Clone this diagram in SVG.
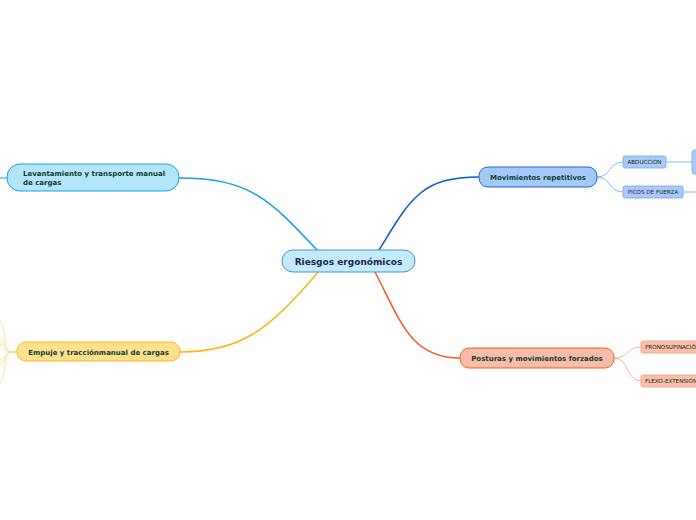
<svg xmlns="http://www.w3.org/2000/svg" width="696" height="520" viewBox="0 0 696 520">
<style>
text{font-family:"DejaVu Sans","Verdana",sans-serif;}
.main{font-size:7px;font-weight:bold;fill:#103d2e;}
.sub{font-size:5.6px;fill:#222;}
.c{fill:none;stroke-linecap:round;}
</style>
<rect width="696" height="520" fill="#ffffff"/>
<g id="connectors">
  <path class="c" d="M179,178 C250,178 270,200 317,250" stroke="#14a0e6" stroke-width="1.5"/>
  <path class="c" d="M0,178 L7,178" stroke="#14a0e6" stroke-width="1"/>
  <path class="c" d="M379,250 C410,200 420,177 479,177" stroke="#0a58cc" stroke-width="1.5"/>
  <path class="c" d="M375,272 C400,320 410,358 460,358" stroke="#f05a24" stroke-width="1.5"/>
  <path class="c" d="M318,272 C270,330 240,352 180,352" stroke="#ffb512" stroke-width="1.5"/>
  <path class="c" d="M597,177 C612,177 608,162 623,162" stroke="#8ab6f6" stroke-width="1"/>
  <path class="c" d="M597,177 C612,177 608,192 623,192" stroke="#8ab6f6" stroke-width="1"/>
  <path class="c" d="M666,162 L692,162" stroke="#8ab6f6" stroke-width="1"/>
  <path class="c" d="M683,192 L696,192" stroke="#8ab6f6" stroke-width="1"/>
  <path class="c" d="M614,358 C630,358 625,347 641,347" stroke="#fbb096" stroke-width="1"/>
  <path class="c" d="M614,358 C630,358 625,381 641,381" stroke="#fbb096" stroke-width="1"/>
  <path class="c" d="M17,352 L11,352" stroke="#fcc848" stroke-width="1.5"/>
  <g stroke="#fde3a8" stroke-width="1" fill="none">
    <path d="M11,352 C4,352 6,330 0,320"/>
    <path d="M11,352 C4,352 5,342 0,338"/>
    <path d="M11,352 C5,352 4,346 0,344"/>
    <path d="M11,352 C5,352 4,359 0,360"/>
    <path d="M11,352 C5,352 4,364 0,366"/>
    <path d="M11,352 C4,352 6,374 0,384"/>
  </g>
</g>
<g id="central">
  <rect x="282" y="250" width="133" height="22" rx="11" fill="#c5eafc" stroke="#3a98d8" stroke-width="1"/>
  <text x="348.5" y="264.5" text-anchor="middle" style="font-size:9px;font-weight:bold;fill:#172a4c">Riesgos ergonómicos</text>
</g>
<g id="levantamiento">
  <rect x="7" y="164" width="172" height="27" rx="13" fill="#b3e5fc" stroke="#1ea0e6" stroke-width="1"/>
  <text class="main" x="23" y="176">Levantamiento y transporte manual</text>
  <text class="main" x="23" y="185">de cargas</text>
</g>
<g id="movimientos">
  <rect x="479" y="167" width="118" height="20" rx="9" fill="#a3c9f8" stroke="#1a63d4" stroke-width="1"/>
  <text class="main" x="538" y="180" text-anchor="middle">Movimientos repetitivos</text>
</g>
<g id="abduccion">
  <rect x="623" y="156" width="43" height="12" rx="2" fill="#a8cbf8" stroke="#73a4f0" stroke-width="0.8"/>
  <text class="sub" x="644.5" y="164" text-anchor="middle">ABDUCCION</text>
</g>
<g id="abduccion-child">
  <rect x="692" y="150" width="10" height="24" rx="3" fill="#a8cbf8" stroke="#73a4f0" stroke-width="0.8"/>
</g>
<g id="picos">
  <rect x="623" y="186" width="60" height="12" rx="2" fill="#a8cbf8" stroke="#73a4f0" stroke-width="0.8"/>
  <text class="sub" x="653" y="194" text-anchor="middle">PICOS DE FUERZA</text>
</g>
<g id="posturas">
  <rect x="460" y="348" width="154" height="20" rx="9" fill="#f9bca8" stroke="#f25f2c" stroke-width="1"/>
  <text class="main" x="537" y="361" text-anchor="middle">Posturas y movimientos forzados</text>
</g>
<g id="pronosupinacion">
  <rect x="641" y="341" width="64" height="12" rx="2" fill="#fbc0aa" stroke="#f8a080" stroke-width="0.8"/>
  <text class="sub" x="645" y="349">PRONOSUPINACIÓN</text>
</g>
<g id="flexo">
  <rect x="641" y="375" width="64" height="12" rx="2" fill="#fbc0aa" stroke="#f8a080" stroke-width="0.8"/>
  <text class="sub" x="645" y="383">FLEXO-EXTENSION</text>
</g>
<g id="empuje">
  <rect x="17" y="342" width="163" height="19" rx="9" fill="#ffe08c" stroke="#f8b722" stroke-width="1"/>
  <text class="main" x="98.5" y="354.5" text-anchor="middle">Empuje y tracciónmanual de cargas</text>
</g>
</svg>
